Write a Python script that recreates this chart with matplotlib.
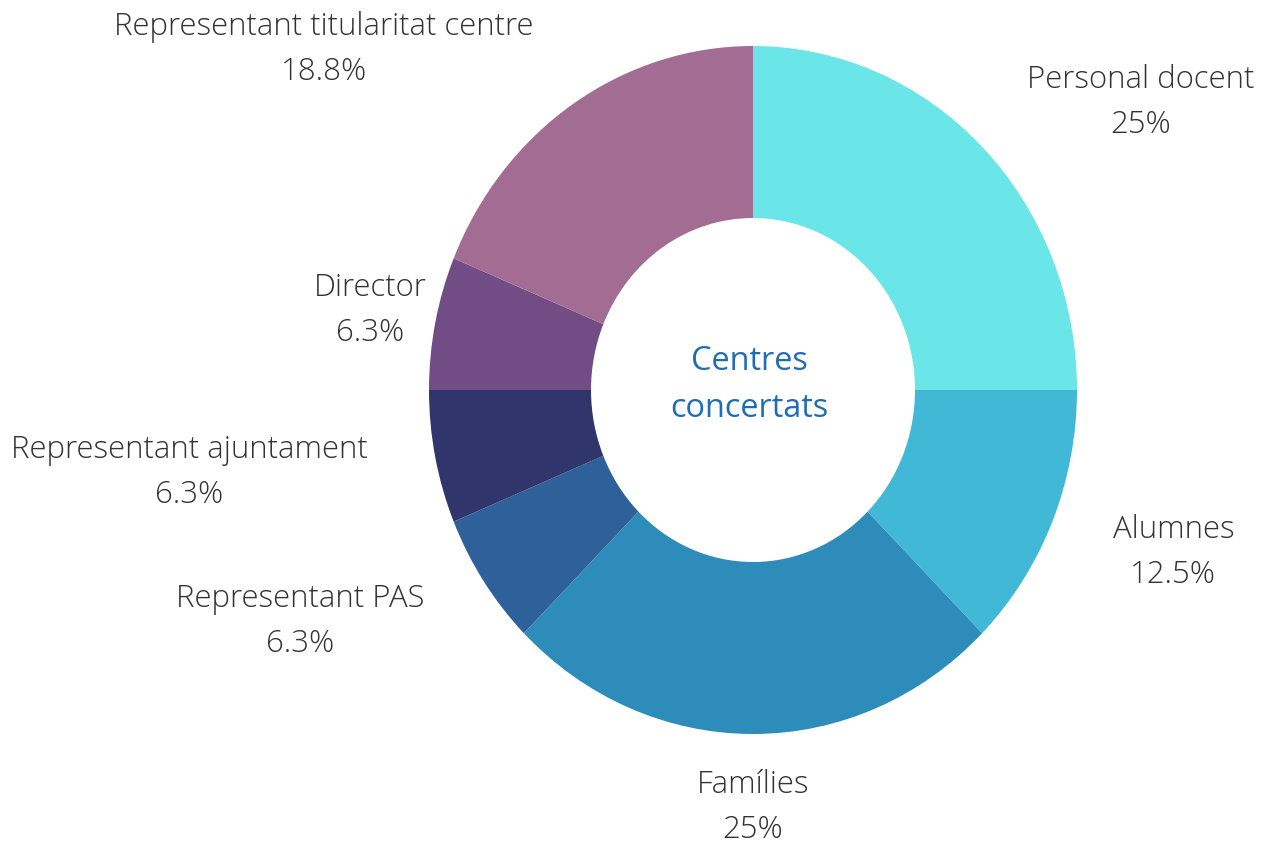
import numpy as np
import matplotlib
matplotlib.use("Agg")
import matplotlib.pyplot as plt

labels = ["Personal docent", "Alumnes", "Famílies", "Representant PAS",
          "Representant ajuntament", "Director", "Representant titularitat centre"]
values = [25, 12.5, 25, 6.25, 6.25, 6.25, 18.75]
pct_text = ["25%", "12.5%", "25%", "6.3%", "6.3%", "6.3%", "18.8%"]
colors = ["#6ae5e8", "#42b8d7", "#2e8cbb", "#2e6099", "#30356b", "#714c85", "#a36c93"]
center_title = "Centres\nconcertats"

# label anchor offsets (distance factor, angle tweak in degrees)
label_dist = [1.462, 1.38, 1.21, 1.55, 1.755, 1.204, 1.655]
label_tweak = [-10, 2.6, 0, -8.1, -3.5, 0.0, 19.4]

plt.rcParams['font.family'] = ['Open Sans', 'DejaVu Sans']

fig = plt.figure(figsize=(12.65, 8.45), dpi=100)
# axes box matches the (slightly stretched) donut
cx, cy, rx, ry = 753, 391, 324, 344
ax = fig.add_axes([(cx - rx) / 1265, 1 - (cy + ry) / 845, 2 * rx / 1265, 2 * ry / 845])

wedges, _ = ax.pie(values, colors=colors, startangle=90, counterclock=False,
                   radius=1, wedgeprops=dict(width=0.5, linewidth=0))
ax.set_aspect('auto')
ax.set_xlim(-1, 1)
ax.set_ylim(-1, 1)
ax.axis('off')

for w, lab, pct, d, tw in zip(wedges, labels, pct_text, label_dist, label_tweak):
    ang = np.deg2rad((w.theta1 + w.theta2) / 2 + tw)
    x, y = d * np.cos(ang), d * np.sin(ang)
    ax.text(x, y, lab + "\n" + pct, ha='center', va='center', fontsize=22.4,
            fontweight='light', color='#333333', linespacing=1.53, clip_on=False)

ax.text(-0.01, 0.018, center_title, ha='center', va='center', fontsize=23.4,
        color='#1f6db5', linespacing=1.55)

fig.savefig("out.png", dpi=100)
